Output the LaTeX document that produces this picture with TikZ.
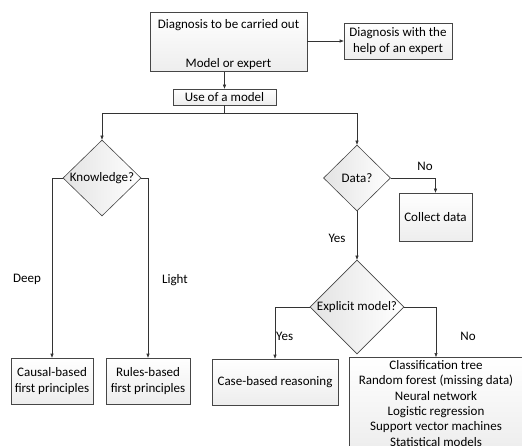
\documentclass[tikz,border=0pt]{standalone}
\usepackage{fontspec}
\setmainfont{Carlito}
\usetikzlibrary{shapes.geometric,arrows.meta}

\tikzset{
  box/.style={draw=gray!55!black, line width=0.6pt, top color=white, bottom color=gray!14,
    inner sep=2pt, align=center, font=\fontsize{13}{16}\selectfont},
  dia/.style={draw=gray!55!black, line width=0.6pt, diamond, left color=gray!22, right color=white,
    inner sep=0pt, label={[font=\fontsize{13}{15}\selectfont]center:#1}},
  conn/.style={draw=gray!40!black, line width=0.6pt},
  arr/.style={conn, -{Triangle[length=4pt,width=3pt]}},
  lab/.style={font=\fontsize{13}{15}\selectfont},
}

\begin{document}
\begin{tikzpicture}[x=1pt,y=-1pt]
\useasboundingbox (0,0) rectangle (522,446);
\clip (0,0) rectangle (522,446);

% top of the chart
\node[box, minimum width=157pt, minimum height=56pt] (diag) at (228.5,42) {\rule{0pt}{14pt}Diagnosis to be carried out\\[23pt]Model or expert};
\node[box, minimum width=108pt, minimum height=36pt] (expert) at (398,41) {Diagnosis with the\\help of an expert};
\node[box, minimum width=103pt, minimum height=16pt, inner sep=0pt] (use) at (224.5,97) {Use of a model};
\coordinate (split) at (224.5,113);

% decisions
\node[dia=Knowledge?, minimum width=78pt, minimum height=76pt] (know) at (102,178) {};
\node[dia=Data?, minimum width=67pt, minimum height=66pt] (data) at (357,178) {};
\node[dia=Explicit model?, minimum width=94pt, minimum height=94pt] (expl) at (357,307) {};

% outcomes
\node[box, minimum width=73pt, minimum height=48pt] (collect) at (435.5,217) {Collect data};
\node[box, minimum width=82pt, minimum height=46pt] (causal) at (52,381) {Causal-based\\first principles};
\node[box, minimum width=84pt, minimum height=46pt] (rules) at (148,381) {Rules-based\\first principles};
\node[box, minimum width=126pt, minimum height=46pt] (case) at (275,382) {Case-based reasoning};
\node[box, anchor=north, minimum width=173pt, font=\fontsize{13}{15.4}\selectfont, inner ysep=3pt] (learn) at (436,357)
  {Classification tree\\Random forest (missing data)\\Neural network\\Logistic regression\\Support vector machines\\Statistical models};

% connectors
\draw[arr] (diag.east |- expert.west) -- (expert.west);
\draw[arr] (use.north |- diag.south) -- (use.north);
\draw[conn] (use.south) -- (split);
\draw[arr] (split) -| (know.north);
\draw[arr] (split) -| (data.north);
\draw[arr] (know.west) -| (causal.north);
\draw[arr] (know.east) -| (rules.north);
\draw[arr] (data.east) -| (collect.north);
\draw[arr] (data.south) -- (expl.north);
\draw[arr] (expl.west) -| (case.north);
\draw[arr] (expl.east) -| (learn.north);

% branch labels
\node[lab] (deep) at (27,279) {Deep};
\node[lab] (light) at (175,280) {Light};
\node[lab] (no1) at (425,166) {No};
\node[lab] (yes1) at (337,238) {Yes};
\node[lab, anchor=west, inner sep=0pt] (yes2) at (276,336) {Yes};
\node[lab] (no2) at (468,336) {No};
\end{tikzpicture}
\end{document}
